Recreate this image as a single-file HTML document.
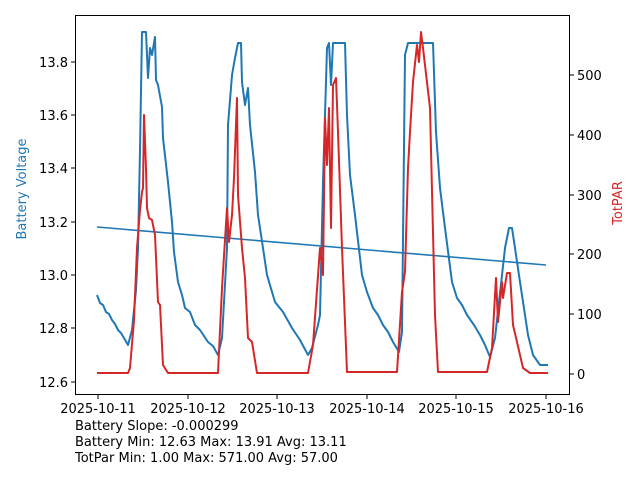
<!DOCTYPE html><html><head><style>body{margin:0;background:#fff}svg{font-family:"DejaVu Sans","Liberation Sans",sans-serif}</style></head><body>
<svg width="640" height="480" xmlns="http://www.w3.org/2000/svg">
<g fill="none" stroke-width="2" stroke-linejoin="round">
<polyline stroke="#1f77b4" stroke-width="1.6" points="97,227 546,265"/>
<polyline stroke="#1f77b4" points="97,295 100,303 103,305 106,312 109,314 112,320 115,324 118,330 121,333 124,338 128,345 132,330 136,290 138,248 140,150 142,32 146,32 148,78 150,48 152,55 155,37 156,80 158,85 162,107 163,138 168,182 172,222 174,252 178,282 182,295 185,308 190,312 195,325 200,330 208,342 213,346 218,355 222,338 227,248 228,125 232,75 235,58 238,43 241,43 242,82 245,105 248,88 250,125 255,172 258,215 263,248 267,275 275,302 283,312 292,328 300,340 308,355 312,348 318,325 320,315 323,182 327,48 329,43 331,85 333,43 345,43 347,115 350,175 355,215 362,275 367,292 373,308 378,315 383,325 388,332 393,342 399,352 402,332 405,55 408,43 433,43 436,132 440,188 445,228 452,282 457,298 462,305 467,315 474,325 480,335 485,345 490,357 495,338 505,248 509,228 512,228 515,248 520,282 525,315 528,335 533,355 540,365 548,365"/>
<polyline stroke="#d62728" points="97,373 128,373 130,368 134,320 137,248 140,210 142,192 143,188 144,115 146,168 147,208 149,218 152,220 155,235 158,302 160,305 163,365 168,373 218,373 222,288 227,208 229,242 232,215 234,178 237,98 238,195 242,248 245,278 248,338 252,342 257,373 308,373 313,345 320,248 323,275 325,118 327,165 329,108 331,228 333,85 336,78 338,132 342,248 347,372 397,372 402,292 405,272 408,168 410,132 413,82 417,45 419,62 421,32 423,48 430,108 435,315 438,372 487,372 492,348 496,278 498,322 502,282 503,298 507,273 510,273 513,325 517,342 523,368 530,373 548,373"/>
</g>
<rect x="75.5" y="15.5" width="494" height="379" fill="none" stroke="#000" stroke-width="1"/>
<g stroke="#000" stroke-width="1">
<line x1="75" y1="62" x2="71" y2="62"/><line x1="75" y1="115" x2="71" y2="115"/><line x1="75" y1="168" x2="71" y2="168"/><line x1="75" y1="222" x2="71" y2="222"/><line x1="75" y1="275" x2="71" y2="275"/><line x1="75" y1="328" x2="71" y2="328"/><line x1="75" y1="382" x2="71" y2="382"/>
<line x1="570" y1="374" x2="574" y2="374"/><line x1="570" y1="314" x2="574" y2="314"/><line x1="570" y1="254" x2="574" y2="254"/><line x1="570" y1="195" x2="574" y2="195"/><line x1="570" y1="135" x2="574" y2="135"/><line x1="570" y1="75" x2="574" y2="75"/>
<line x1="98" y1="395" x2="98" y2="399"/><line x1="188" y1="395" x2="188" y2="399"/><line x1="277" y1="395" x2="277" y2="399"/><line x1="367" y1="395" x2="367" y2="399"/><line x1="456" y1="395" x2="456" y2="399"/><line x1="546" y1="395" x2="546" y2="399"/>
</g>
<g font-size="13" fill="#000">
<g text-anchor="end"><text x="68" y="67">13.8</text><text x="68" y="120">13.6</text><text x="68" y="173">13.4</text><text x="68" y="227">13.2</text><text x="68" y="280">13.0</text><text x="68" y="333">12.8</text><text x="68" y="387">12.6</text></g>
<g><text x="577" y="379">0</text><text x="577" y="319">100</text><text x="577" y="259">200</text><text x="577" y="200">300</text><text x="577" y="140">400</text><text x="577" y="80">500</text></g>
<g text-anchor="middle"><text x="98" y="413">2025-10-11</text><text x="188" y="413">2025-10-12</text><text x="277" y="413">2025-10-13</text><text x="367" y="413">2025-10-14</text><text x="456" y="413">2025-10-15</text><text x="546" y="413">2025-10-16</text></g>
<text x="75" y="430">Battery Slope: -0.000299</text>
<text x="75" y="446">Battery Min: 12.63 Max: 13.91 Avg: 13.11</text>
<text x="75" y="462">TotPar Min: 1.00 Max: 571.00 Avg: 57.00</text>
<text transform="translate(26,189) rotate(-90)" text-anchor="middle" fill="#1f77b4">Battery Voltage</text>
<text transform="translate(622,203) rotate(-90)" text-anchor="middle" fill="#d62728">TotPAR</text>
</g>
</svg></body></html>
